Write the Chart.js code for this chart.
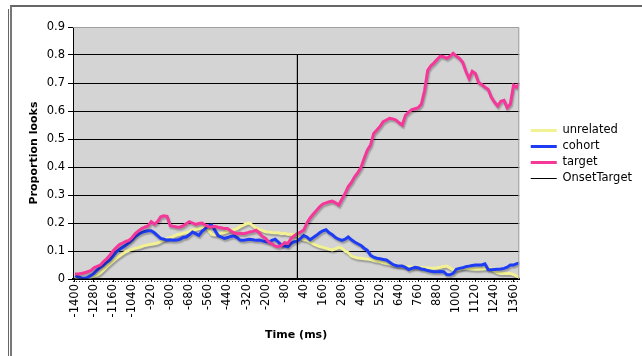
<!DOCTYPE html>
<html>
<head>
<meta charset="utf-8">
<script src="https://cdn.jsdelivr.net/npm/chart.js@4/dist/chart.umd.min.js"></script>
<style>
  html, body { margin: 0; padding: 0; background: #fff; }
  #wrap { position: relative; width: 642px; height: 356px; overflow: hidden; }
  #lineL { position: absolute; left: 8px; top: 9px; width: 1px; height: 360px; background: #666; }
  #box { position: absolute; left: 10px; top: 5px; width: 700px; height: 400px; border-left: 2px solid #777; border-top: 2px solid #666; }
  canvas { position: absolute; left: 0; top: 0; }
</style>
</head>
<body>
<div id="wrap">
  <div id="lineL"></div>
  <div id="box"></div>
  <canvas id="c" width="642" height="356"></canvas>
</div>
<script>
// Time axis (ms), one sample every 20 ms
const startTime = -1400;
const stepTime = 20;
const tickLabels = [-1400, -1280, -1160, -1040, -920, -800, -680, -560, -440, -320, -200, -80,
                    40, 160, 280, 400, 520, 640, 760, 880, 1000, 1120, 1240, 1360];
const yTicks = [0, 0.1, 0.2, 0.3, 0.4, 0.5, 0.6, 0.7, 0.8, 0.9];

const unrelated = [
  0.006,0.005,0.003,0.002,0.003,0.006,0.010,0.015,0.022,0.032,
  0.044,0.054,0.064,0.074,0.082,0.090,0.097,0.102,0.106,0.110,
  0.112,0.116,0.120,0.122,0.124,0.126,0.128,0.134,0.140,0.145,
  0.148,0.152,0.157,0.160,0.163,0.165,0.170,0.175,0.177,0.180,
  0.184,0.187,0.175,0.160,0.157,0.160,0.163,0.166,0.170,0.173,
  0.176,0.180,0.187,0.192,0.198,0.200,0.190,0.182,0.178,0.174,
  0.169,0.168,0.166,0.165,0.165,0.162,0.163,0.160,0.160,0.158,
  0.155,0.145,0.140,0.139,0.132,0.125,0.120,0.116,0.113,0.110,
  0.106,0.104,0.108,0.113,0.110,0.100,0.094,0.082,0.078,0.075,
  0.074,0.072,0.071,0.070,0.066,0.064,0.062,0.058,0.056,0.053,
  0.050,0.049,0.047,0.046,0.044,0.044,0.043,0.042,0.042,0.041,
  0.040,0.039,0.038,0.038,0.040,0.042,0.045,0.046,0.040,0.032,
  0.033,0.036,0.038,0.038,0.037,0.036,0.035,0.035,0.036,0.037,
  0.038,0.036,0.028,0.022,0.020,0.020,0.020,0.020,0.016,0.010,
  0.006
];
const cohort = [
  0.011,0.008,0.004,0.002,0.006,0.012,0.020,0.032,0.042,0.050,
  0.060,0.068,0.082,0.097,0.105,0.113,0.120,0.130,0.140,0.152,
  0.160,0.166,0.170,0.172,0.172,0.165,0.155,0.145,0.142,0.139,
  0.140,0.138,0.139,0.142,0.148,0.150,0.158,0.168,0.162,0.156,
  0.170,0.180,0.190,0.193,0.175,0.156,0.150,0.145,0.148,0.152,
  0.154,0.148,0.139,0.138,0.140,0.142,0.140,0.138,0.139,0.136,
  0.133,0.132,0.138,0.142,0.132,0.120,0.118,0.115,0.127,0.133,
  0.135,0.145,0.155,0.150,0.140,0.148,0.156,0.165,0.172,0.176,
  0.165,0.158,0.148,0.142,0.138,0.142,0.150,0.140,0.132,0.126,
  0.120,0.110,0.102,0.085,0.078,0.074,0.072,0.070,0.068,0.060,
  0.052,0.048,0.046,0.046,0.042,0.034,0.038,0.042,0.040,0.036,
  0.034,0.030,0.028,0.026,0.026,0.027,0.026,0.016,0.015,0.020,
  0.035,0.038,0.040,0.044,0.046,0.048,0.050,0.050,0.050,0.054,
  0.034,0.033,0.034,0.035,0.036,0.038,0.042,0.050,0.050,0.055,
  0.057
];
const target = [
  0.018,0.018,0.020,0.022,0.026,0.030,0.040,0.045,0.050,0.062,
  0.072,0.085,0.100,0.112,0.123,0.128,0.134,0.138,0.148,0.162,
  0.172,0.180,0.185,0.190,0.205,0.196,0.205,0.222,0.226,0.224,
  0.190,0.188,0.186,0.185,0.190,0.197,0.205,0.200,0.195,0.198,
  0.200,0.193,0.187,0.186,0.188,0.185,0.183,0.180,0.180,0.172,
  0.165,0.162,0.163,0.162,0.164,0.168,0.170,0.174,0.165,0.152,
  0.145,0.132,0.125,0.118,0.115,0.120,0.130,0.127,0.145,0.155,
  0.162,0.168,0.175,0.200,0.218,0.232,0.245,0.258,0.268,0.272,
  0.276,0.278,0.272,0.264,0.285,0.305,0.330,0.345,0.365,0.380,
  0.398,0.430,0.460,0.478,0.520,0.532,0.545,0.562,0.568,0.574,
  0.572,0.568,0.558,0.550,0.585,0.596,0.605,0.608,0.612,0.625,
  0.672,0.745,0.762,0.772,0.785,0.796,0.794,0.788,0.795,0.806,
  0.796,0.788,0.774,0.742,0.716,0.742,0.734,0.702,0.695,0.685,
  0.678,0.650,0.632,0.618,0.635,0.638,0.612,0.625,0.692,0.685,
  0.700
];
// OnsetTarget series: zero everywhere with a single spike at target onset (0 ms)
const onsetTimes  = [-1400, 0, 0, 0, 1400];
const onsetValues = [0, 0, 0.8, 0, 0];

const times = unrelated.map((_, i) => startTime + i * stepTime);
const toPts = (arr) => arr.map((v, i) => ({ x: times[i], y: v }));

const FONT = "'DejaVu Sans', Verdana, sans-serif";

const plotBg = {
  id: 'plotBg',
  beforeDraw(chart) {
    const { ctx, chartArea: a } = chart;
    ctx.save();
    ctx.fillStyle = '#d4d4d4';
    ctx.fillRect(a.left, a.top, a.right - a.left, a.bottom - a.top);
    ctx.restore();
  },
  beforeDatasetDraw(chart, args) {
    const ctx = chart.ctx;
    ctx.save();
    if (args.index < 3) {
      ctx.shadowColor = 'rgba(0,0,0,0.28)';
      ctx.shadowOffsetX = 1;
      ctx.shadowOffsetY = 2;
      ctx.shadowBlur = 1.5;
    }
  },
  afterDatasetDraw(chart) {
    chart.ctx.restore();
  },
  afterDraw(chart) {
    const { ctx, chartArea: a } = chart;
    ctx.save();
    ctx.strokeStyle = '#a0a0a0';
    ctx.lineWidth = 1;
    ctx.beginPath();
    ctx.moveTo(a.left, a.top + 0.5);
    ctx.lineTo(a.right - 0.5, a.top + 0.5);
    ctx.lineTo(a.right - 0.5, a.bottom);
    ctx.stroke();
    ctx.strokeStyle = '#333';
    ctx.setLineDash([1, 2]);
    ctx.beginPath();
    ctx.moveTo(a.left, a.bottom + 2.5);
    ctx.lineTo(a.right, a.bottom + 2.5);
    ctx.stroke();
    ctx.restore();
  },
  afterLayout(chart) {
    const lg = chart.legend;
    if (lg) { lg.left += 7; lg.right += 7; lg.top -= 32; lg.bottom -= 32; }
  }
};

new Chart(document.getElementById('c'), {
  type: 'line',
  data: {
    datasets: [
      { label: 'unrelated', data: toPts(unrelated), borderColor: '#f2f294', backgroundColor: '#f2f294', borderWidth: 3, order: 4 },
      { label: 'cohort', data: toPts(cohort), borderColor: '#1f3cf5', backgroundColor: '#1f3cf5', borderWidth: 3, order: 3 },
      { label: 'target', data: toPts(target), borderColor: '#f5379a', backgroundColor: '#f5379a', borderWidth: 3, order: 2 },
      { label: 'OnsetTarget', data: onsetTimes.map((t, i) => ({ x: t, y: onsetValues[i] })), borderColor: '#000', backgroundColor: '#555', borderWidth: 1.2, order: 1 }
    ]
  },
  options: {
    responsive: false,
    animation: false,
    devicePixelRatio: 1,
    layout: { padding: { top: 27, left: 22, bottom: 10, right: 7 } },
    elements: { point: { radius: 0 }, line: { tension: 0 } },
    plugins: {
      tooltip: { enabled: false },
      legend: {
        position: 'right',
        labels: {
          usePointStyle: true,
          pointStyle: 'line',
          pointStyleWidth: 26,
          boxHeight: 11.5,
          padding: 4.5,
          color: '#000',
          font: { family: FONT, size: 11.5 },
          sort: (a, b) => a.datasetIndex - b.datasetIndex
        }
      }
    },
    scales: {
      x: {
        type: 'linear',
        min: -1412,
        max: 1396,
        afterBuildTicks: (s) => { s.ticks = tickLabels.map(v => ({ value: v })); },
        afterFit: (s) => { s.height = 67; },
        grid: { drawOnChartArea: false, color: '#000', tickLength: 3, tickColor: '#000' },
        border: { color: '#000', width: 2 },
        ticks: {
          minRotation: 90, maxRotation: 90, autoSkip: false, padding: 2,
          color: '#000', font: { family: FONT, size: 11.5 },
          callback: (v) => String(v)
        },
        title: { display: true, text: 'Time (ms)', color: '#000', font: { family: FONT, size: 11, weight: 'bold' }, padding: { top: 2, bottom: 4 } }
      },
      y: {
        min: 0,
        max: 0.9,
        afterBuildTicks: (s) => { s.ticks = yTicks.map(v => ({ value: v })); },
        afterFit: (s) => { s.width = 51; },
        grid: {
          color: (c) => (c.tick && c.tick.value >= 0.89 ? 'rgba(0,0,0,0)' : '#000'),
          tickColor: '#000', tickLength: 5, lineWidth: 1
        },
        border: { color: '#000', width: 1 },
        ticks: {
          color: '#000', padding: 3, font: { family: FONT, size: 11.5 },
          callback: (v) => (v === 0 ? '0' : Number(v).toFixed(1))
        },
        title: { display: true, text: 'Proportion looks', color: '#000', font: { family: FONT, size: 11, weight: 'bold' }, padding: { top: 6, bottom: 2 } }
      }
    }
  },
  plugins: [plotBg]
});
</script>
</body>
</html>
